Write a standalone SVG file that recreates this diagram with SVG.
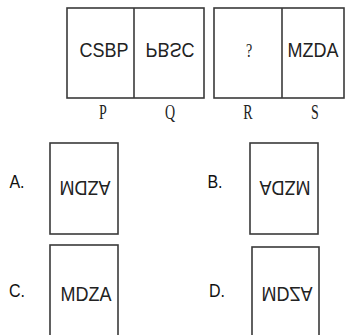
<svg xmlns="http://www.w3.org/2000/svg" width="345" height="335" viewBox="0 0 345 335">
<style>
.box{fill:#fff;stroke:#3a3a3a;stroke-width:1.6}
.ln{stroke:#3a3a3a;stroke-width:1.6;fill:none}
.t{font-family:"Liberation Sans",Arial,sans-serif;font-size:18px;fill:#222;text-anchor:middle}
.s{font-family:"Liberation Serif","Times New Roman",serif;font-size:14px;fill:#222;text-anchor:middle}
.o{font-family:"Liberation Sans",Arial,sans-serif;font-size:16px;fill:#111;text-anchor:middle}
</style>
<rect width="345" height="335" fill="#fff"/>
<g id="pair1">
<rect class="box" x="67" y="8" width="137" height="90"/>
<line class="ln" x1="134" y1="8" x2="134" y2="98"/>
<text class="t" transform="translate(104,50) scale(1,1.15)" y="6.4">CSBP</text>
<text class="t" transform="translate(170,50) scale(1,-1.15)" y="6.4">PBSC</text>
<text class="s" transform="translate(103,112) scale(1,1.5)" y="4.6">P</text>
<text class="s" transform="translate(170,112) scale(1,1.5)" y="4.6">Q</text>
</g>
<g id="pair2">
<rect class="box" x="214" y="8" width="130" height="90"/>
<line class="ln" x1="282" y1="8" x2="282" y2="98"/>
<text class="s" transform="translate(249,51) scale(1,1.4)" y="4.6">?</text>
<text class="t" transform="translate(313,50) scale(1,1.15)" y="6.4">MZDA</text>
<text class="s" transform="translate(248,112) scale(1,1.5)" y="4.6">R</text>
<text class="s" transform="translate(315,112) scale(1,1.5)" y="4.6">S</text>
</g>
<g id="optA">
<text class="o" transform="translate(17,181) scale(1,1.2)" y="5.7">A.</text>
<rect class="box" x="50" y="143" width="68" height="91"/>
<text class="t" transform="translate(85,188) rotate(180) scale(1,1.15)" y="6.4">AZDM</text>
</g>
<g id="optB">
<text class="o" transform="translate(215,181) scale(1,1.2)" y="5.7">B.</text>
<rect class="box" x="250" y="143" width="68" height="91"/>
<text class="t" transform="translate(285,188) rotate(180) scale(1,1.15)" y="6.4">MZDA</text>
</g>
<g id="optC">
<text class="o" transform="translate(17,290) scale(1,1.2)" y="5.7">C.</text>
<rect class="box" x="50" y="245" width="68" height="100"/>
<text class="t" transform="translate(86,294) scale(1,1.15)" y="6.4">MDZA</text>
</g>
<g id="optD">
<text class="o" transform="translate(217,290) scale(1,1.2)" y="5.7">D.</text>
<rect class="box" x="252" y="247" width="67" height="100"/>
<text class="t" transform="translate(287,294) scale(1,-1.15)" y="6.4">MDZA</text>
</g>
</svg>
